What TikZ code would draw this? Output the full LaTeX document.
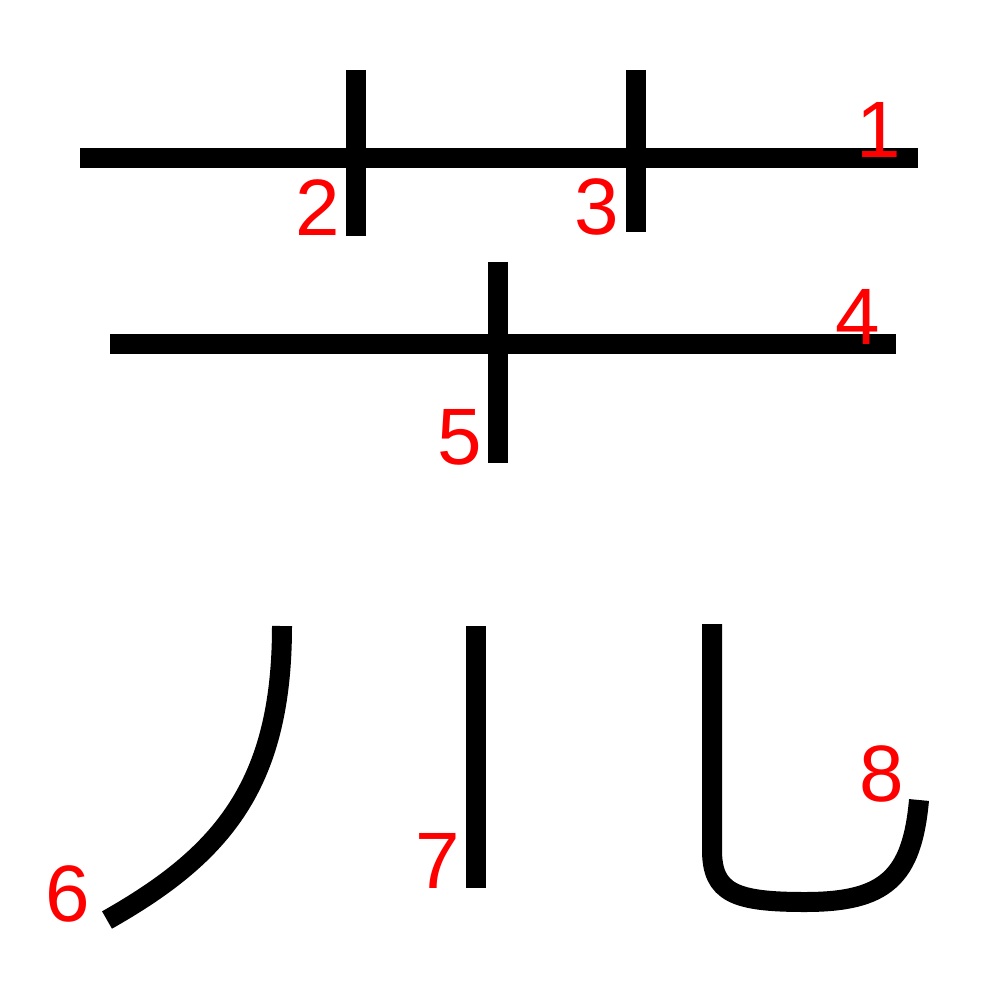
\documentclass[tikz,border=0pt]{standalone}
\usepackage{fontspec}
\setmainfont{Liberation Sans}
\begin{document}
\begin{tikzpicture}[x=1pt,y=-1pt,
  stroke/.style={line width=20pt,black,line cap=butt},
  num/.style={text=red,inner sep=0pt,anchor=base,font=\fontsize{80}{96}\selectfont}]
\useasboundingbox[fill=white] (0,0) rectangle (1000,1000);
% strokes
\draw[stroke] (80,158) -- (918,158);
\draw[stroke] (356,70) -- (356,236);
\draw[stroke] (636,70) -- (636,232);
\draw[stroke] (110,344) -- (896,344);
\draw[stroke] (498,262) -- (498,463);
\draw[stroke] (282,626) .. controls (282,785) and (222,855) .. (107,920);
\draw[stroke] (476,626) -- (476,888);
\draw[stroke] (712,624) -- (712,850) .. controls (712,893) and (735,902) .. (805,902)
  .. controls (885,902) and (912,878) .. (919,800);
% labels
\node[num] (n1) at (879,158) {1};
\node[num] (n2) at (318,236) {2};
\node[num] (n3) at (597,234) {3};
\node[num] (n4) at (858,344) {4};
\node[num] (n5) at (460,464) {5};
\node[num] (n6) at (68,921) {6};
\node[num] (n7) at (438,888) {7};
\node[num] (n8) at (882,801) {8};
\end{tikzpicture}
\end{document}
